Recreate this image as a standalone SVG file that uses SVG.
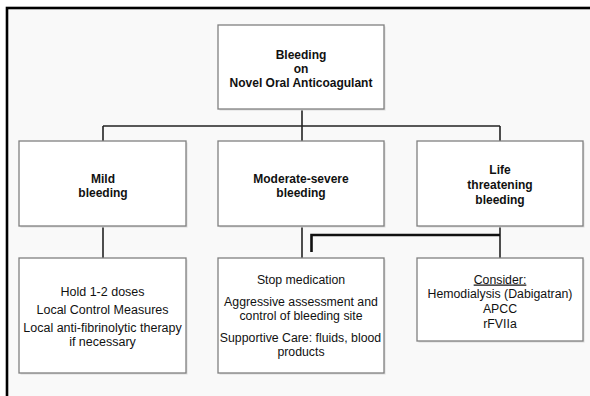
<svg xmlns="http://www.w3.org/2000/svg" width="590" height="396" viewBox="0 0 590 396">
  <style>
    .box { fill: #ffffff; stroke: #808080; stroke-width: 1.3; }
    .shadow { fill: #dcdcdc; }
    .conn { fill: none; stroke: #222222; stroke-width: 1.6; }
    .bracket { fill: none; stroke: #111111; stroke-width: 2.6; }
    text { font-family: "Liberation Sans", Arial, sans-serif; fill: #111111; text-anchor: middle; }
    .b { font-weight: bold; font-size: 12px; }
    .r { font-size: 12.3px; }
    .m { font-size: 12.5px; }
  </style>
  <rect x="0" y="0" width="590" height="396" fill="#ffffff"/>
  <rect x="7" y="8" width="600" height="400" fill="#f9f9f9" stroke="#000000" stroke-width="2.6"/>

  <g id="connectors">
    <line class="conn" x1="302" y1="109" x2="302" y2="126"/>
    <line class="conn" x1="103" y1="126" x2="500" y2="126"/>
    <line class="conn" x1="103" y1="126" x2="103" y2="141"/>
    <line class="conn" x1="302" y1="126" x2="302" y2="141"/>
    <line class="conn" x1="500" y1="126" x2="500" y2="141"/>
    <line class="conn" x1="103" y1="226" x2="103" y2="258"/>
    <line class="conn" x1="302" y1="226" x2="302" y2="258"/>
    <line class="conn" x1="500" y1="226" x2="500" y2="258"/>
    <polyline class="bracket" points="311.5,252 311.5,235 500,235"/>
  </g>

  <g id="root">
    <rect class="shadow" x="219.5" y="26.5" width="166" height="84"/>
    <rect class="box" x="218" y="25" width="166" height="84"/>
    <text class="b" x="301" y="58.5">Bleeding</text>
    <text class="b" x="301" y="72.5">on</text>
    <text class="b" x="301" y="86.5">Novel Oral Anticoagulant</text>
  </g>

  <g id="mild">
    <rect class="shadow" x="20.5" y="142.5" width="167" height="85"/>
    <rect class="box" x="19" y="141" width="167" height="85"/>
    <text class="b" x="103" y="182.5">Mild</text>
    <text class="b" x="103" y="196.5">bleeding</text>
  </g>

  <g id="moderate">
    <rect class="shadow" x="219.5" y="142.5" width="166" height="85"/>
    <rect class="box" x="218" y="141" width="166" height="85"/>
    <text class="b" x="301" y="182.5">Moderate-severe</text>
    <text class="b" x="301" y="196.5">bleeding</text>
  </g>

  <g id="life">
    <rect class="shadow" x="418.5" y="142.5" width="166" height="85"/>
    <rect class="box" x="417" y="141" width="166" height="85"/>
    <text class="b" x="500" y="174">Life</text>
    <text class="b" x="500" y="188.8">threatening</text>
    <text class="b" x="500" y="203.5">bleeding</text>
  </g>

  <g id="mild-actions">
    <rect class="shadow" x="20.5" y="259.5" width="167" height="115"/>
    <rect class="box" x="19" y="258" width="167" height="115"/>
    <text class="m" x="102.5" y="296">Hold 1-2 doses</text>
    <text class="m" x="102.5" y="314">Local Control Measures</text>
    <text class="m" x="102.5" y="332">Local anti-fibrinolytic therapy</text>
    <text class="m" x="102.5" y="345.5">if necessary</text>
  </g>

  <g id="moderate-actions">
    <rect class="shadow" x="219.5" y="259.5" width="166" height="115"/>
    <rect class="box" x="218" y="258" width="166" height="115"/>
    <text class="r" x="301" y="284">Stop medication</text>
    <text class="r" x="301" y="305.5">Aggressive assessment and</text>
    <text class="r" x="301" y="320">control of bleeding site</text>
    <text class="r" x="300.5" y="341.5">Supportive Care: fluids, blood</text>
    <text class="r" x="301" y="356">products</text>
  </g>

  <g id="life-actions">
    <rect class="shadow" x="418.5" y="259.5" width="166" height="83"/>
    <rect class="box" x="417" y="258" width="166" height="83"/>
    <text class="r" x="500" y="283.5" text-decoration="underline">Consider:</text>
    <text class="r" x="500" y="298">Hemodialysis (Dabigatran)</text>
    <text class="r" x="500" y="313">APCC</text>
    <text class="r" x="500" y="327.5">rFVIIa</text>
  </g>
</svg>
